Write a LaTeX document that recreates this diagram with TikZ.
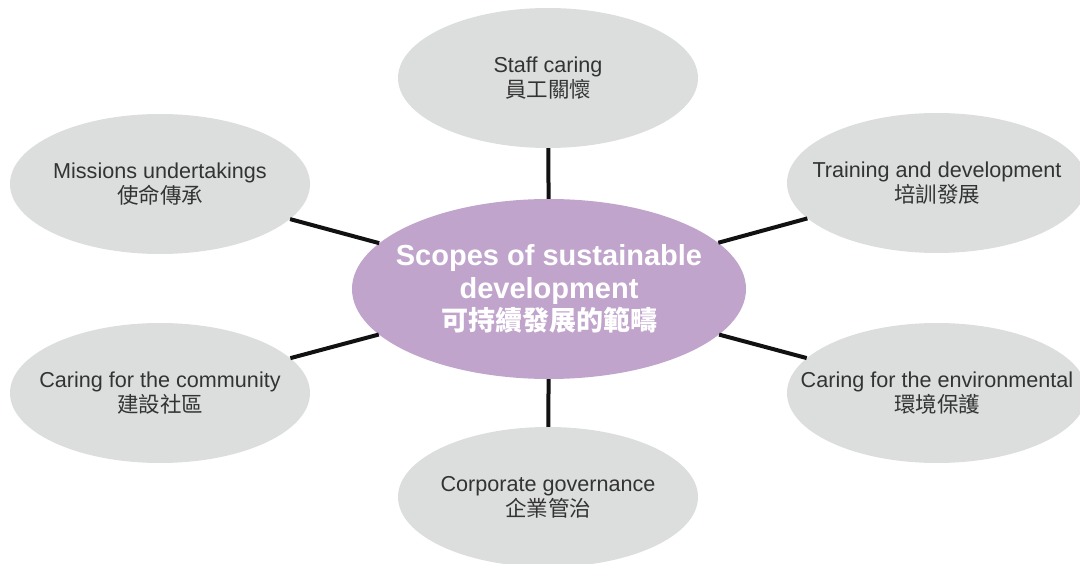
\documentclass[tikz,border=0pt]{standalone}
\usepackage{fontspec}
\setmainfont{Liberation Sans}
\newfontfamily\cjk{Noto Sans CJK TC}
\usetikzlibrary{shapes.geometric}
\definecolor{topicgray}{HTML}{DCDDDD}
\definecolor{hubpurple}{HTML}{C0A4CC}
\definecolor{labelgray}{HTML}{333333}
\definecolor{linkblack}{HTML}{111111}
\tikzset{
  % fixed-size ellipses; the caption sits on top as a centred label
  topic/.style={ellipse, fill=topicgray, minimum width=300, minimum height=140,
    inner sep=0pt,
    label={[align=center, text=labelgray, inner sep=0pt,
      font=\fontsize{21.6}{25}\selectfont]center:#1}},
  hub/.style={ellipse, fill=hubpurple, minimum width=394, minimum height=180,
    inner sep=0pt,
    label={[align=center, text=white, inner sep=0pt,
      font=\fontsize{29}{32.5}\selectfont\bfseries]center:#1}},
  link/.style={draw=linkblack, line width=4pt}
}
\begin{document}
\begin{tikzpicture}[x=1pt, y=-1pt]
  \useasboundingbox (0,0) rectangle (1080,564);
  % outer topics
  \node[topic={Staff caring\\{\cjk\fontsize{21.5}{25}\selectfont 員工關懷}}] (staff) at (548,78) {};
  \node[topic={Missions undertakings\\{\cjk\fontsize{21.5}{25}\selectfont 使命傳承}}] (mission) at (160,184) {};
  \node[topic={Training and development\\{\cjk\fontsize{21.5}{25}\selectfont 培訓發展}}] (training) at (937,183) {};
  \node[topic={Caring for the community\\{\cjk\fontsize{21.5}{25}\selectfont 建設社區}}] (commun) at (160,393) {};
  \node[topic={Caring for the environmental\\{\cjk\fontsize{21.5}{25}\selectfont 環境保護}}] (environ) at (937,393) {};
  \node[topic={Corporate governance\\{\cjk\fontsize{21.5}{25}\selectfont 企業管治}}] (govern) at (548,497) {};
  % central hub
  \node[hub={Scopes of sustainable\\development\\{\cjk\bfseries\fontsize{27}{32.5}\selectfont 可持續發展的範疇}}] (hub) at (549,289) {};
  % spokes
  \foreach \t in {staff,mission,training,commun,environ,govern}
    \draw[link] (hub) -- (\t);
\end{tikzpicture}
\end{document}
